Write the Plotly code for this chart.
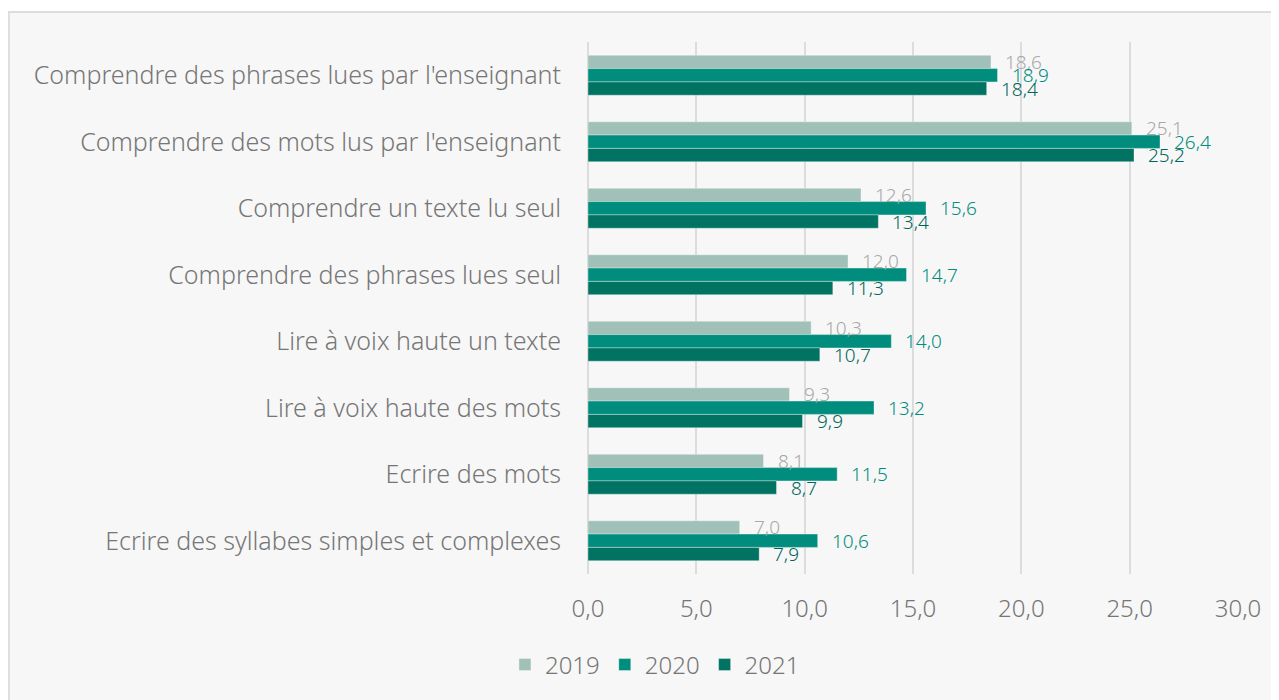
import plotly.graph_objects as go

# Données
categories = [
    "Comprendre des phrases lues par l'enseignant",
    "Comprendre des mots lus par l'enseignant",
    "Comprendre un texte lu seul",
    "Comprendre des phrases lues seul",
    "Lire à voix haute un texte",
    "Lire à voix haute des mots",
    "Ecrire des mots",
    "Ecrire des syllabes simples et complexes",
]
annees = ["2019", "2020", "2021"]
valeurs_2019 = [18.6, 25.1, 12.6, 12.0, 10.3, 9.3, 8.1, 7.0]
valeurs_2020 = [18.9, 26.4, 15.6, 14.7, 14.0, 13.2, 11.5, 10.6]
valeurs_2021 = [18.4, 25.2, 13.4, 11.3, 10.7, 9.9, 8.7, 7.9]
series = [valeurs_2019, valeurs_2020, valeurs_2021]

couleurs_barres = ["#a1c1b8", "#008d7d", "#007363"]
couleurs_textes = ["#a8a8a8", "#008d7d", "#00665a"]

police = "Noto Sans"
gris = "#767676"
bargap = 0.4

fig = go.Figure()

for nom, vals, coul in zip(annees, series, couleurs_barres):
    fig.add_trace(go.Bar(
        name=nom,
        y=categories,
        x=vals,
        orientation="h",
        marker=dict(color=coul, line=dict(color="rgba(255,255,255,0.35)", width=1)),
        hoverinfo="x+name",
    ))

# étiquettes de données
largeur = (1 - bargap) / len(series)
annotations = []
for k, (vals, coul) in enumerate(zip(series, couleurs_textes)):
    decal = (k - (len(series) - 1) / 2) * largeur
    for i, v in enumerate(vals):
        annotations.append(dict(
            x=v, y=i + decal, xref="x", yref="y",
            text=f"{v:.1f}".replace(".", ","),
            showarrow=False, xanchor="left", yanchor="middle", xshift=12,
            font=dict(family=police, size=19, color=coul),
        ))

fig.update_layout(
    width=1271,
    height=692,
    barmode="group",
    bargap=bargap,
    bargroupgap=0,
    separators=", ",
    paper_bgcolor="white",
    plot_bgcolor="#f7f7f7",
    margin=dict(l=580, r=41, t=34, b=126),
    font=dict(family=police, size=24, color=gris, weight=300),
    annotations=annotations,
    shapes=[dict(
        type="rect", xref="paper", yref="paper",
        x0=-0.891, x1=1.2, y0=-0.3, y1=1.0564,
        fillcolor="#f7f7f7", line=dict(color="#dddddd", width=2),
        layer="below",
    )],
    legend=dict(
        orientation="h", x=0.103, xanchor="center", y=-0.171, yanchor="middle",
        font=dict(family=police, size=24, color=gris),
        bgcolor="rgba(0,0,0,0)",
    ),
    xaxis=dict(
        range=[0, 30], dtick=5, tickformat=".1f",
        showgrid=True, gridcolor="#dcdcdc", gridwidth=1.5,
        zeroline=True, zerolinecolor="#dcdcdc", zerolinewidth=1.5,
        showline=False, ticks="", ticklabelstandoff=18,
        tickfont=dict(family=police, size=24, color=gris),
    ),
    yaxis=dict(
        autorange="reversed", showgrid=False, ticks="",
        ticklabelstandoff=26,
        tickfont=dict(family=police, size=25, color=gris),
    ),
)

fig.write_html("out.html")
